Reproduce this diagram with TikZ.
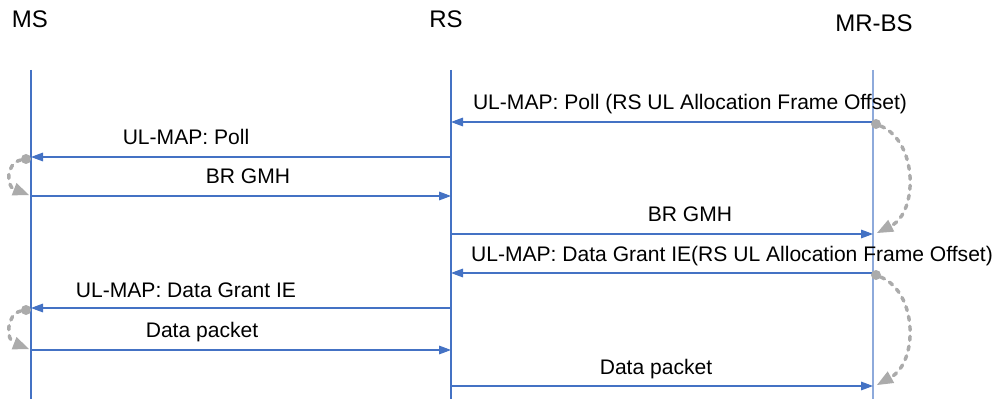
\documentclass[tikz,border=0pt]{standalone}
\usepackage{fontspec}
\setmainfont{Liberation Sans}
\usetikzlibrary{arrows.meta}
\definecolor{lineblue}{HTML}{4472C4}
\definecolor{lightblue}{HTML}{8EAADB}
\definecolor{loopgray}{HTML}{ABABAB}
\begin{document}
\begin{tikzpicture}[x=0.75pt,y=-0.75pt,
  head/.style={anchor=base,inner sep=0pt,font=\fontsize{18}{20}\selectfont},
  lbl/.style={anchor=base,inner sep=0pt,font=\fontsize{15.8}{18}\selectfont},
  lifeline/.style={draw=lineblue,line width=0.8pt},
  msg/.style={draw=lineblue,line width=0.8pt,-{Triangle[length=9pt,width=6.5pt]}},
  relay/.style={draw=loopgray,line width=2.6pt,dash pattern=on 3pt off 4.5pt,line cap=round,
    -{Triangle[length=12pt,width=10pt,fill=loopgray,line width=0pt]}},
  blob/.style={circle,fill=loopgray,inner sep=0pt,minimum size=7.5pt}]
\useasboundingbox (0,0) rectangle (1000,399);

% participants
\node[head] (ms) at (30,28) {MS};
\node[head] (rs) at (446,28) {RS};
\node[head] (bs) at (874,32) {MR-BS};

% lifelines
\coordinate (msT) at (31,70);  \coordinate (msB) at (31,399);
\coordinate (rsT) at (451,70); \coordinate (rsB) at (451,399);
\coordinate (bsT) at (873,70); \coordinate (bsB) at (873,399);
\draw[lifeline] (msT) -- (msB);
\draw[lifeline] (rsT) -- (rsB);
\draw[lifeline,draw=lightblue,line width=1.1pt] (bsT) -- (bsB);

% message end points
\foreach \n/\y in {1/122,2/157,3/196,4/234,5/273,6/308,7/350,8/386}{
  \coordinate (ms\n) at (31,\y);
  \coordinate (rs\n) at (451,\y);
  \coordinate (bs\n) at (873,\y);
}

% messages
\draw[msg] (bs1) -- (rs1);
\draw[msg] (rs2) -- (ms2);
\draw[msg] (ms3) -- (rs3);
\draw[msg] (rs4) -- (bs4);
\draw[msg] (bs5) -- (rs5);
\draw[msg] (rs6) -- (ms6);
\draw[msg] (ms7) -- (rs7);
\draw[msg] (rs8) -- (bs8);

% message labels
\node[lbl] (l1) at (690,110) {UL-MAP: Poll (RS UL Allocation Frame Offset)};
\node[lbl] (l2) at (186,145) {UL-MAP: Poll};
\node[lbl] (l3) at (248,184) {BR GMH};
\node[lbl] (l4) at (690,222) {BR GMH};
\node[lbl] (l5) at (732,262) {UL-MAP: Data Grant IE(RS UL Allocation Frame Offset)};
\node[lbl] (l6) at (186,297) {UL-MAP: Data Grant IE};
\node[lbl] (l7) at (202,337) {Data packet};
\node[lbl] (l8) at (656,374) {Data packet};

% relay loops at MR-BS
\node[blob] (b1) at (876,124) {};
\draw[relay] (b1) .. controls (918,142) and (918,212) .. (877,233);
\node[blob] (b2) at (876,275) {};
\draw[relay] (b2) .. controls (918,293) and (918,362) .. (877,385);

% relay loops at MS
\node[blob] (m1) at (26,159) {};
\draw[relay] (m1) .. controls (6,163) and (6,186) .. (29,195);
\node[blob] (m2) at (26,310) {};
\draw[relay] (m2) .. controls (6,314) and (6,340) .. (29,349);
\end{tikzpicture}
\end{document}
